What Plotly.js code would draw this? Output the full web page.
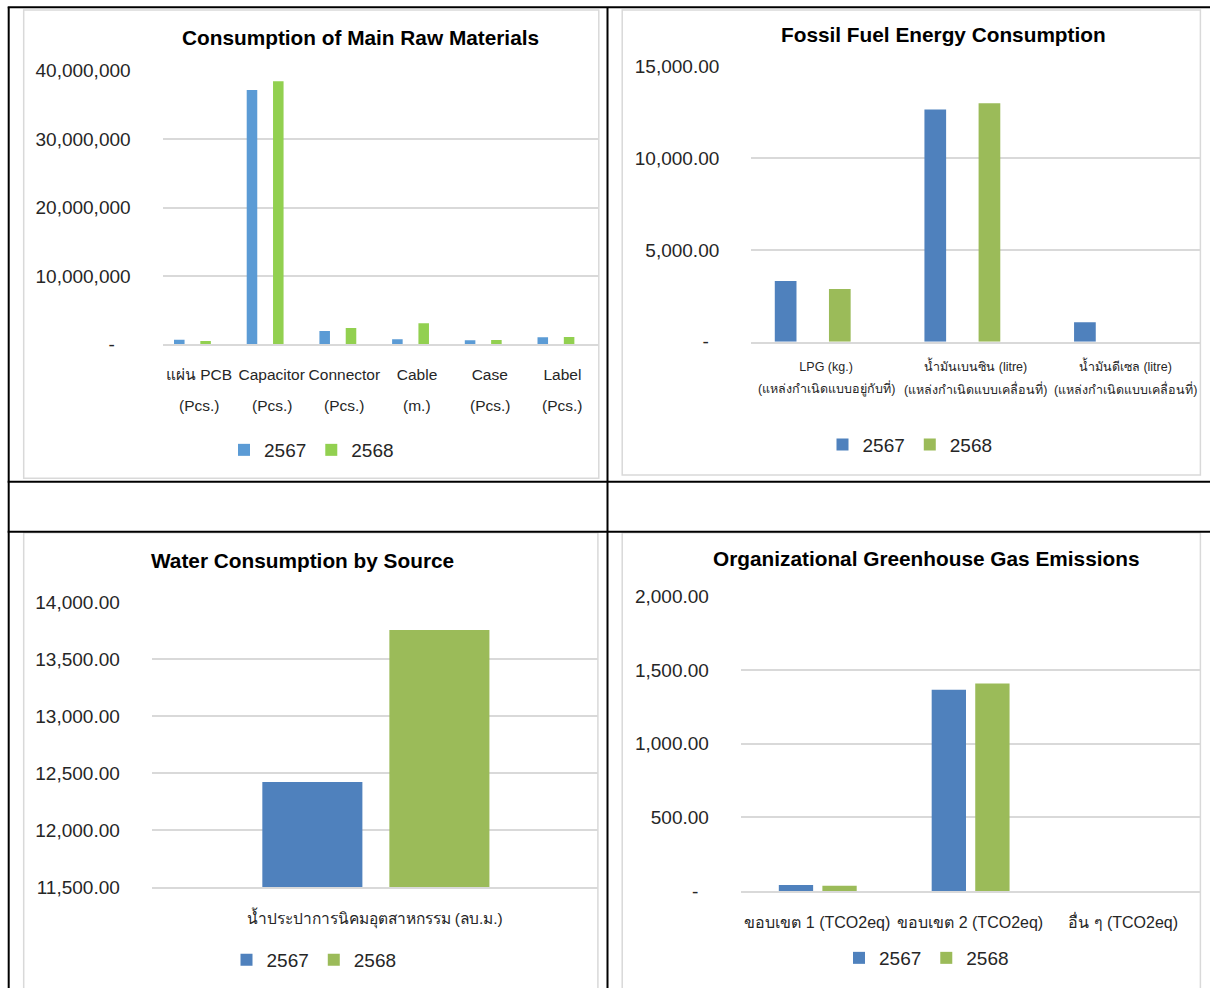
<!DOCTYPE html>
<html>
<head>
<meta charset="utf-8">
<script src="https://cdn.plot.ly/plotly-3.0.1.min.js"></script>
<style>
html,body{margin:0;padding:0;background:#fff;}
#chart{width:1210px;height:988px;}
</style>
</head>
<body>
<div id="chart"></div>
<script>
// ---------------- DATA ----------------
const seriesNames = ['2567', '2568'];

// Chart 1: Consumption of Main Raw Materials
const materialTitle = 'Consumption of Main Raw Materials';
const materialCats = ['แผ่น PCB', 'Capacitor', 'Connector', 'Cable', 'Case', 'Label'];
const materialUnits = ['(Pcs.)', '(Pcs.)', '(Pcs.)', '(m.)', '(Pcs.)', '(Pcs.)'];
const material2567 = [670000, 37180000, 1940000, 730000, 580000, 1020000];
const material2568 = [480000, 38450000, 2380000, 3070000, 630000, 1070000];
const materialTickVals = [0, 10000000, 20000000, 30000000, 40000000];
const materialTickText = ['-\u00a0\u00a0\u00a0', '10,000,000', '20,000,000', '30,000,000', '40,000,000'];

// Chart 2: Fossil Fuel Energy Consumption
const fuelTitle = 'Fossil Fuel Energy Consumption';
const fuelCats = ['LPG (kg.)', 'น้ำมันเบนซิน (litre)', 'น้ำมันดีเซล (litre)'];
const fuelSources = ['(แหล่งกำเนิดแบบอยู่กับที่)', '(แหล่งกำเนิดแบบเคลื่อนที่)', '(แหล่งกำเนิดแบบเคลื่อนที่)'];
const fuel2567 = [3310, 12670, 1060];
const fuel2568 = [2880, 13010, 0];
const fuelTickVals = [0, 5000, 10000, 15000];
const fuelTickText = ['-\u00a0\u00a0', '5,000.00', '10,000.00', '15,000.00'];

// Chart 3: Water Consumption by Source
const waterTitle = 'Water Consumption by Source';
const waterCats = ['น้ำประปาการนิคมอุตสาหกรรม (ลบ.ม.)'];
const water2567 = [12424];
const water2568 = [13757];
const waterTickVals = [11500, 12000, 12500, 13000, 13500, 14000];
const waterTickText = ['11,500.00', '12,000.00', '12,500.00', '13,000.00', '13,500.00', '14,000.00'];

// Chart 4: Organizational Greenhouse Gas Emissions
const ghgTitle = 'Organizational Greenhouse Gas Emissions';
const ghgCats = ['ขอบเขต 1 (TCO2eq)', 'ขอบเขต 2 (TCO2eq)', 'อื่น ๆ (TCO2eq)'];
const ghg2567 = [41, 1365, 0];
const ghg2568 = [36, 1408, 0];
const ghgTickVals = [0, 500, 1000, 1500, 2000];
const ghgTickText = ['-\u00a0\u00a0', '500.00', '1,000.00', '1,500.00', '2,000.00'];

// ---------------- LAYOUT HELPERS ----------------
const W = 1210, H = 988;
const px = x => x / W;
const py = y => 1 - y / H;
const FONT = 'Liberation Sans, Arial, Noto Sans, sans-serif';
const TXT = '#262626';
const GRID = '#D9D9D9';

const blueA = '#5B9BD5', greenA = '#92D050';
const blueB = '#4F81BD', greenB = '#9BBB59';

function bar(x, y, name, color, ax, legend, width, offset) {
  return {type: 'bar', x: x, y: y, name: name, xaxis: 'x' + ax, yaxis: 'y' + ax,
    legend: legend, width: width, offset: offset, marker: {color: color, line: {width: 0}},
    hoverinfo: 'skip'};
}

const data = [
  bar(materialCats, material2567, seriesNames[0], blueA, '', 'legend', 0.145, -0.343),
  bar(materialCats, material2568, seriesNames[1], greenA, '', 'legend', 0.145, 0.019),
  bar(fuelCats, fuel2567, seriesNames[0], blueB, '2', 'legend2', 0.145, -0.343),
  bar(fuelCats, fuel2568, seriesNames[1], greenB, '2', 'legend2', 0.145, 0.019),
  bar(waterCats, water2567, seriesNames[0], blueB, '3', 'legend3', 0.2245, -0.252),
  bar(waterCats, water2568, seriesNames[1], greenB, '3', 'legend3', 0.2245, 0.033),
  bar(ghgCats, ghg2567, seriesNames[0], blueB, '4', 'legend4', 0.2245, -0.252),
  bar(ghgCats, ghg2568, seriesNames[1], greenB, '4', 'legend4', 0.2245, 0.033)
];

function xax(x0, x1, anchor, n, fs, standoff) {
  return {domain: [px(x0), px(x1)], anchor: anchor, type: 'category', range: [-0.5, n - 0.5],
    showgrid: false, zeroline: false, showline: true, linecolor: GRID, linewidth: 2,
    ticks: '', ticklabelstandoff: standoff, tickfont: {family: FONT, size: fs, color: TXT},
    fixedrange: true};
}
function yax(y0, y1, anchor, range, vals, text) {
  return {domain: [py(y1), py(y0)], anchor: anchor, range: range, tickmode: 'array',
    tickvals: vals, ticktext: text, showgrid: true, gridcolor: GRID, gridwidth: 2,
    zeroline: false, showline: false, ticks: '', ticklabelstandoff: 31,
    tickfont: {family: FONT, size: 19, color: TXT}, fixedrange: true};
}
function leg(x, y) {
  return {x: px(x), y: py(y), xanchor: 'center', yanchor: 'middle', orientation: 'h',
    font: {family: FONT, size: 19, color: TXT}, bgcolor: 'rgba(0,0,0,0)', itemclick: false};
}
function title(text, x, y) {
  return {text: '<b>' + text + '</b>', x: px(x), y: py(y), xref: 'paper', yref: 'paper',
    xanchor: 'center', yanchor: 'middle', showarrow: false,
    font: {family: FONT, size: 20.8, color: '#000'}};
}

const annotations = [
  title(materialTitle, 360, 37),
  title(fuelTitle, 943, 34),
  title(waterTitle, 302.5, 560.5),
  title(ghgTitle, 926.4, 558)
];
materialCats.forEach((c, i) => annotations.push({text: materialUnits[i], x: c, xref: 'x', y: py(405),
  yref: 'paper', xanchor: 'center', yanchor: 'middle', showarrow: false,
  font: {family: FONT, size: 15.5, color: TXT}}));
fuelCats.forEach((c, i) => annotations.push({text: fuelSources[i], x: c, xref: 'x2', y: py(388.7),
  yref: 'paper', xanchor: 'center', yanchor: 'middle', showarrow: false,
  font: {family: FONT, size: 12.5, color: TXT}}));

const BLACK = '#000';
function ln(x0, y0, x1, y1, color, w) {
  return {type: 'line', xref: 'paper', yref: 'paper', x0: px(x0), y0: py(y0), x1: px(x1), y1: py(y1),
    line: {color: color, width: w}, layer: 'above'};
}
function frame(x0, y0, x1, y1) {
  return {type: 'rect', xref: 'paper', yref: 'paper', x0: px(x0), y0: py(y0), x1: px(x1), y1: py(y1),
    line: {color: GRID, width: 1.5}, fillcolor: 'rgba(0,0,0,0)', layer: 'below'};
}
const shapes = [
  frame(23.7, 10, 598.8, 478.3),
  frame(622.2, 10, 1200.4, 475),
  frame(23.7, 532.7, 597.9, 1000),
  frame(622.2, 532.7, 1200.4, 1000),
  ln(8.7, 7.3, 8.7, 988, BLACK, 2),
  ln(607.5, 7.3, 607.5, 988, BLACK, 2),
  ln(7.7, 7.3, 1210, 7.3, BLACK, 2),
  ln(7.7, 481.7, 1210, 481.7, BLACK, 2),
  ln(7.7, 531.7, 1210, 531.7, BLACK, 2)
];

const layout = {
  width: W, height: H, margin: {l: 0, r: 0, t: 0, b: 0},
  paper_bgcolor: '#fff', plot_bgcolor: 'rgba(0,0,0,0)',
  font: {family: FONT, color: TXT},
  barmode: 'group',
  xaxis: xax(162.6, 598.8, 'y', materialCats.length, 15.5, 15),
  yaxis: yax(70.7, 344.3, 'x', [0, 40000000], materialTickVals, materialTickText),
  xaxis2: xax(751.3, 1200.2, 'y2', fuelCats.length, 12.5, 12),
  yaxis2: yax(66.7, 341.7, 'x2', [0, 15000], fuelTickVals, fuelTickText),
  xaxis3: xax(151.8, 597.5, 'y3', waterCats.length, 15.5, 16),
  yaxis3: yax(602.3, 887.3, 'x3', [11500, 14000], waterTickVals, waterTickText),
  xaxis4: xax(740.9, 1199.5, 'y4', ghgCats.length, 16, 16),
  yaxis4: yax(596.3, 891, 'x4', [0, 2000], ghgTickVals, ghgTickText),
  legend: leg(311.5, 450),
  legend2: leg(910, 444.7),
  legend3: leg(314, 960),
  legend4: leg(926.5, 958),
  annotations: annotations,
  shapes: shapes
};

Plotly.newPlot('chart', data, layout, {staticPlot: true, displayModeBar: false});
</script>
</body>
</html>
